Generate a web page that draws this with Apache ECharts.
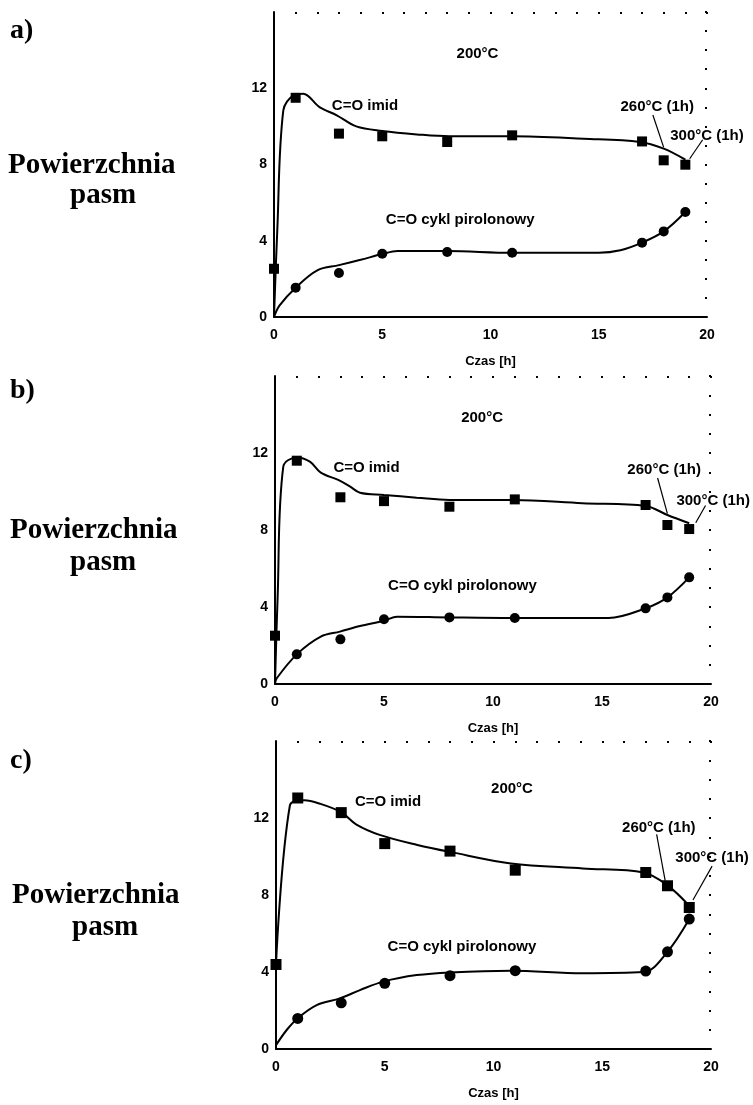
<!DOCTYPE html>
<html>
<head>
<meta charset="utf-8">
<script src="https://cdn.jsdelivr.net/npm/echarts@6/dist/echarts.min.js"></script>
<style>
html,body{margin:0;padding:0;background:#fff;}
#chart{width:753px;height:1105px;}
</style>
</head>
<body>
<div id="chart"></div>
<script>
// ---- data ----
const panelNames = ['a)', 'b)', 'c)'];
const yLabel = ['Powierzchnia', 'pasm'];
const xName = 'Czas [h]';
const yTickValues = [0, 4, 8, 12];
const xTickValues = [0, 5, 10, 15, 20];

const hoursImid = [0, 1, 3, 5, 8, 11, 17, 18, 19];
const hoursPir = [1, 3, 5, 8, 11, 17, 18, 19];

const imidA = [2.53, 11.5, 9.62, 9.48, 9.18, 9.53, 9.21, 8.22, 7.99];
const pirA = [1.54, 2.31, 3.32, 3.41, 3.37, 3.9, 4.49, 5.51];
const imidB = [2.51, 11.6, 9.7, 9.5, 9.21, 9.59, 9.3, 8.26, 8.05];
const pirB = [1.54, 2.32, 3.36, 3.46, 3.43, 3.93, 4.5, 5.54];
const imidC = [4.39, 13.04, 12.28, 10.67, 10.28, 9.29, 9.17, 8.48, 7.35];
const pirC = [1.59, 2.4, 3.41, 3.81, 4.07, 4.05, 5.05, 6.75];

// fitted curves: [hour, value]
const fitImidA = [[0,0],[0.15,4.5],[0.43,10.84],[0.9,11.63],[1.35,11.71],[2.1,11.01],[2.9,10.58],[3.8,10.0],[5,9.76],[6.6,9.58],[8.1,9.48],[11,9.48],[14.3,9.35],[16.9,9.18],[18,8.83],[19,8.25]];
const fitPirA = [[0,0],[0.25,0.6],[1,1.54],[2,2.45],[3,2.72],[4,3.0],[5,3.3],[5.7,3.46],[8,3.46],[11,3.37],[15,3.37],[16,3.5],[17,3.9],[18,4.49],[19,5.51]];
const fitImidB = [[0,0],[0.12,4.5],[0.38,11.29],[1,11.77],[1.6,11.55],[2.1,10.98],[2.9,10.6],[3.45,10.25],[3.9,9.94],[5,9.82],[6.5,9.68],[8,9.56],[10.9,9.56],[14.1,9.39],[17,9.25],[18,8.78],[19,8.35]];
const fitPirB = [[0,0],[0.08,0.3],[1,1.54],[2.1,2.46],[2.98,2.72],[3.9,3.01],[5,3.29],[5.6,3.5],[8,3.46],[10.9,3.43],[15.3,3.43],[17,3.93],[18,4.5],[19,5.54]];
const fitImidC = [[0,4.4],[0.64,12.66],[1.3,12.92],[2,12.75],[3,12.3],[3.7,11.66],[4.8,11.11],[6.5,10.6],[8,10.24],[10.8,9.64],[14.1,9.38],[16.9,9.17],[18,8.5],[19,7.44]];
const fitPirC = [[0,0.2],[0.5,1.0],[1,1.6],[1.87,2.28],[2.94,2.63],[3.86,3.06],[4.93,3.5],[6.47,3.84],[8,3.98],[10.8,4.07],[14.1,3.94],[16.9,4.0],[18,5.05],[19,6.75]];

const textsImid = 'C=O imid';
const textsPir = 'C=O cykl pirolonowy';
const text200 = '200°C';
const text260 = '260°C (1h)';
const text300 = '300°C (1h)';

// annotation anchors (data coordinates) per panel
const annA = {t200:[9.4,13.8], imid:[4.2,11.1], pir:[8.6,5.07], t260:[17.7,11.05], t300:[20,9.5],
  l260:[[17.5,10.6],[18,8.9]], l300:[[19.8,9.3],[19.2,8.3]]};
const annB = {t200:[9.5,13.8], imid:[4.2,11.25], pir:[8.6,5.08], t260:[17.85,11.1], t300:[20.1,9.5],
  l260:[[17.55,10.7],[18,8.85]], l300:[[19.75,9.27],[19.3,8.38]]};
const annC = {t200:[10.85,13.5], imid:[5.15,12.85], pir:[8.55,5.3], t260:[17.6,11.5], t300:[20.05,9.95],
  l260:[[17.5,11.15],[17.95,8.4]], l300:[[20.05,9.5],[19.17,7.74]]};

// ---- layout ----
const grids = [
  {left:274, width:433, top:12, height:305},
  {left:275, width:436, top:376, height:308},
  {left:276, width:435, top:741, height:308}
];
const sideText = [
  {tag:[10,32], p1:[8,166], p2:[70,196]},
  {tag:[10,392], p1:[10,531], p2:[70,563]},
  {tag:[10,762], p1:[12,896], p2:[72,928]}
];

const panels = [
  {imid:imidA, pir:pirA, fi:fitImidA, fp:fitPirA, ann:annA},
  {imid:imidB, pir:pirB, fi:fitImidB, fp:fitPirB, ann:annB},
  {imid:imidC, pir:pirC, fi:fitImidC, fp:fitPirC, ann:annC}
];

const FONT = '"Liberation Sans", Arial, sans-serif';
const SERIF = '"Liberation Serif", "Times New Roman", serif';

const xAxis = [], yAxis = [], series = [], graphic = [];
panels.forEach((p, i) => {
  xAxis.push({
    gridIndex:i, type:'value', min:0, max:20, interval:5,
    axisLine:{show:true, onZero:false, lineStyle:{color:'#000', width:2}},
    axisTick:{show:false}, splitLine:{show:false},
    axisLabel:{color:'#000', fontFamily:FONT, fontWeight:'bold', fontSize:14, margin:11,
      formatter: v => xTickValues.includes(v) ? String(v) : ''},
    name:xName, nameLocation:'middle', nameGap:38,
    nameTextStyle:{color:'#000', fontFamily:FONT, fontWeight:'bold', fontSize:13}
  });
  xAxis.push({
    gridIndex:i, type:'value', position:'top', min:0, max:20, interval:1,
    axisLine:{show:false, onZero:false}, axisLabel:{show:false}, splitLine:{show:false},
    axisTick:{show:true, inside:true, length:2, lineStyle:{color:'#000', width:2}}
  });
  yAxis.push({
    gridIndex:i, type:'value', min:0, max:16, interval:4,
    axisLine:{show:true, onZero:false, lineStyle:{color:'#000', width:2}},
    axisTick:{show:false}, splitLine:{show:false},
    axisLabel:{color:'#000', fontFamily:FONT, fontWeight:'bold', fontSize:14, margin:7,
      formatter: v => yTickValues.includes(v) ? String(v) : ''}
  });
  yAxis.push({
    gridIndex:i, type:'value', position:'right', min:0, max:16, interval:1,
    axisLine:{show:false, onZero:false}, axisLabel:{show:false}, splitLine:{show:false},
    axisTick:{show:true, inside:true, length:2, lineStyle:{color:'#000', width:2}}
  });
  const xi = i*2, yi = i*2;
  const lineBase = {type:'line', xAxisIndex:xi, yAxisIndex:yi, symbol:'none', smooth:0.35,
    lineStyle:{color:'#000', width:2}, silent:true, z:2, clip:false};
  series.push(Object.assign({}, lineBase, {data:p.fi}));
  series.push(Object.assign({}, lineBase, {data:p.fp}));
  series.push({type:'scatter', xAxisIndex:xi, yAxisIndex:yi, symbol:'rect', symbolSize:i===2?11:10,
    itemStyle:{color:'#000', opacity:1}, data:hoursImid.map((h,k)=>[h,p.imid[k]]), z:3, clip:false});
  series.push({type:'scatter', xAxisIndex:xi, yAxisIndex:yi, symbol:'circle', symbolSize:i===2?11:10,
    itemStyle:{color:'#000', opacity:1}, data:hoursPir.map((h,k)=>[h,p.pir[k]]), z:3, clip:false});
  // leader lines
  [p.ann.l260, p.ann.l300].forEach(l => {
    series.push({type:'line', xAxisIndex:xi, yAxisIndex:yi, symbol:'none', data:l,
      lineStyle:{color:'#000', width:1.2}, silent:true, z:2, clip:false});
  });
  // text annotations
  const labels = [
    [text200, p.ann.t200], [textsImid, p.ann.imid], [textsPir, p.ann.pir],
    [text260, p.ann.t260], [text300, p.ann.t300]
  ];
  series.push({type:'scatter', xAxisIndex:xi, yAxisIndex:yi, symbolSize:1, clip:false,
    itemStyle:{color:'rgba(0,0,0,0)', opacity:1}, silent:true, z:4,
    data:labels.map(l => ({name:l[0], value:l[1]})),
    label:{show:true, position:'inside', formatter: d => d.name, color:'#000', opacity:1,
      fontFamily:FONT, fontWeight:'bold', fontSize:15}
  });
  // side texts
  const s = sideText[i];
  graphic.push({type:'text', left:s.tag[0], top:s.tag[1]-15,
    style:{text:panelNames[i], font:'bold 28px '+SERIF, fill:'#000'}});
  graphic.push({type:'text', x:s.p1[0], y:s.p1[1],
    style:{text:yLabel[0], font:'bold 29px '+SERIF, fill:'#000', verticalAlign:'middle'}});
  graphic.push({type:'text', x:s.p2[0], y:s.p2[1],
    style:{text:yLabel[1], font:'bold 29px '+SERIF, fill:'#000', verticalAlign:'middle'}});
});

const chart = echarts.init(document.getElementById('chart'), null, {renderer:'canvas'});
chart.setOption({
  backgroundColor:'#fff',
  animation:false,
  grid:grids,
  xAxis:xAxis,
  yAxis:yAxis,
  series:series,
  graphic:graphic
});
</script>
</body>
</html>
